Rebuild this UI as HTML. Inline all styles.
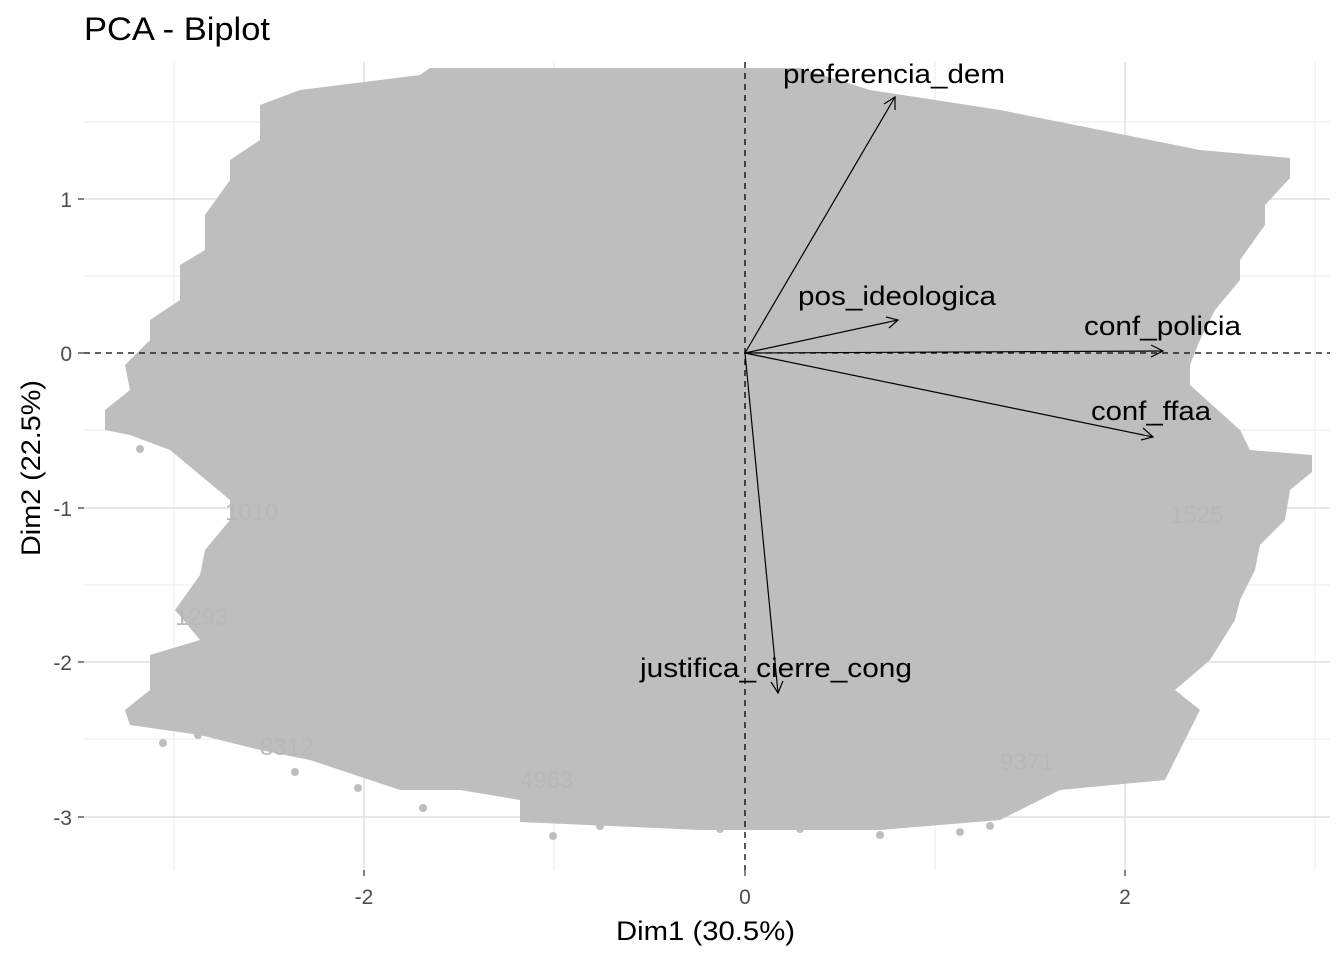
<!DOCTYPE html>
<html><head><meta charset="utf-8"><style>
html,body{margin:0;padding:0;background:#fff}
svg{display:block;font-family:"Liberation Sans",sans-serif}
</style></head><body>
<svg width="1344" height="960" viewBox="0 0 1344 960" xmlns="http://www.w3.org/2000/svg">
<rect width="1344" height="960" fill="#fff"/>
<g stroke="#ebebeb" stroke-width="1">
<line x1="174" y1="62" x2="174" y2="870"/><line x1="554" y1="62" x2="554" y2="870"/><line x1="935" y1="62" x2="935" y2="870"/><line x1="1315" y1="62" x2="1315" y2="870"/>
<line x1="84" y1="122" x2="1330" y2="122"/><line x1="84" y1="276" x2="1330" y2="276"/><line x1="84" y1="430" x2="1330" y2="430"/><line x1="84" y1="585" x2="1330" y2="585"/><line x1="84" y1="739" x2="1330" y2="739"/>
</g>
<g stroke="#e0e0e0" stroke-width="1.5">
<line x1="364" y1="62" x2="364" y2="870"/><line x1="1125" y1="62" x2="1125" y2="870"/>
<line x1="84" y1="199" x2="1330" y2="199"/><line x1="84" y1="508" x2="1330" y2="508"/><line x1="84" y1="662" x2="1330" y2="662"/><line x1="84" y1="817" x2="1330" y2="817"/>
</g>
<polygon fill="#bebebe" points="430,68 800,68 870,90 1000,110 1100,130 1200,150 1290,158 1290,178 1265,205 1265,225 1240,260 1240,280 1215,310 1200,340 1190,365 1190,385 1240,430 1250,450 1312,455 1312,472 1290,490 1285,520 1260,545 1255,570 1240,600 1235,620 1210,660 1175,690 1200,710 1165,780 1060,790 1000,820 880,830 700,830 520,822 520,800 460,790 400,790 310,760 260,750 200,735 130,725 125,710 150,690 150,655 200,640 175,610 200,575 205,550 230,520 230,500 170,450 130,435 105,430 105,410 130,390 125,365 150,340 150,320 180,300 180,265 205,250 205,215 230,180 230,160 260,140 260,105 300,90 420,75"/>
<g fill="#bebebe">
<circle cx="140" cy="449" r="4"/><circle cx="205" cy="463" r="4"/><circle cx="163" cy="743" r="4"/><circle cx="198" cy="735" r="4"/><circle cx="295" cy="772" r="4"/><circle cx="358" cy="788" r="4"/><circle cx="423" cy="808" r="4"/><circle cx="553" cy="836" r="4"/><circle cx="600" cy="826" r="4"/><circle cx="720" cy="829" r="4"/><circle cx="800" cy="829" r="4"/><circle cx="880" cy="835" r="4"/><circle cx="960" cy="832" r="4"/><circle cx="990" cy="826" r="4"/><circle cx="1248" cy="470" r="4"/><circle cx="1248" cy="188" r="4"/><circle cx="1215" cy="242" r="4"/>
</g>
<g fill="#b8b8b8" font-size="24">
<text x="225" y="520">1010</text><text x="175" y="625">1293</text><text x="260" y="755">8312</text><text x="520" y="788">4963</text><text x="1000" y="770">9371</text><text x="1170" y="523">1525</text>
</g>
<g stroke="#000" stroke-width="1.3" stroke-dasharray="6,5">
<line x1="745" y1="62" x2="745" y2="870"/><line x1="84" y1="353" x2="1330" y2="353"/>
</g>
<g stroke="#000" stroke-width="1.2" fill="none">
<line x1="745" y1="353" x2="895" y2="97"/><polyline points="884,104 895,97 895,110"/>
<line x1="745" y1="353" x2="898" y2="320"/><polyline points="886,317 898,320 889,328"/>
<line x1="745" y1="353" x2="1163" y2="351"/><polyline points="1151,345 1163,351 1151,357"/>
<line x1="745" y1="353" x2="1153" y2="437"/><polyline points="1143,428 1153,437 1141,440"/>
<line x1="745" y1="353" x2="778" y2="693"/><polyline points="771,682 778,693 783,681"/>
</g>
<g fill="#000" font-size="27">
<text x="783" y="83" textLength="222" lengthAdjust="spacingAndGlyphs">preferencia_dem</text>
<text x="798" y="305" textLength="198" lengthAdjust="spacingAndGlyphs">pos_ideologica</text>
<text x="1084" y="335" textLength="157" lengthAdjust="spacingAndGlyphs">conf_policia</text>
<text x="1091" y="420" textLength="120" lengthAdjust="spacingAndGlyphs">conf_ffaa</text>
<text x="640" y="677" textLength="272" lengthAdjust="spacingAndGlyphs">justifica_cierre_cong</text>
</g>
<g stroke="#333" stroke-width="1.2">
<line x1="364" y1="870" x2="364" y2="876"/><line x1="745" y1="870" x2="745" y2="876"/><line x1="1125" y1="870" x2="1125" y2="876"/>
<line x1="78" y1="199" x2="84" y2="199"/><line x1="78" y1="353" x2="84" y2="353"/><line x1="78" y1="508" x2="84" y2="508"/><line x1="78" y1="662" x2="84" y2="662"/><line x1="78" y1="817" x2="84" y2="817"/>
</g>
<g fill="#4d4d4d" font-size="21">
<text x="364" y="904" text-anchor="middle">-2</text><text x="745" y="904" text-anchor="middle">0</text><text x="1125" y="904" text-anchor="middle">2</text>
<text x="72" y="207" text-anchor="end">1</text><text x="72" y="361" text-anchor="end">0</text><text x="72" y="516" text-anchor="end">-1</text><text x="72" y="670" text-anchor="end">-2</text><text x="72" y="825" text-anchor="end">-3</text>
</g>
<text x="616" y="940" font-size="27" fill="#000" textLength="179" lengthAdjust="spacingAndGlyphs">Dim1 (30.5%)</text>
<text transform="translate(40,556) rotate(-90)" font-size="27" fill="#000" textLength="176" lengthAdjust="spacingAndGlyphs">Dim2 (22.5%)</text>
<text x="84" y="40" font-size="32" fill="#000" textLength="186" lengthAdjust="spacingAndGlyphs">PCA - Biplot</text>
</svg>
</body></html>
